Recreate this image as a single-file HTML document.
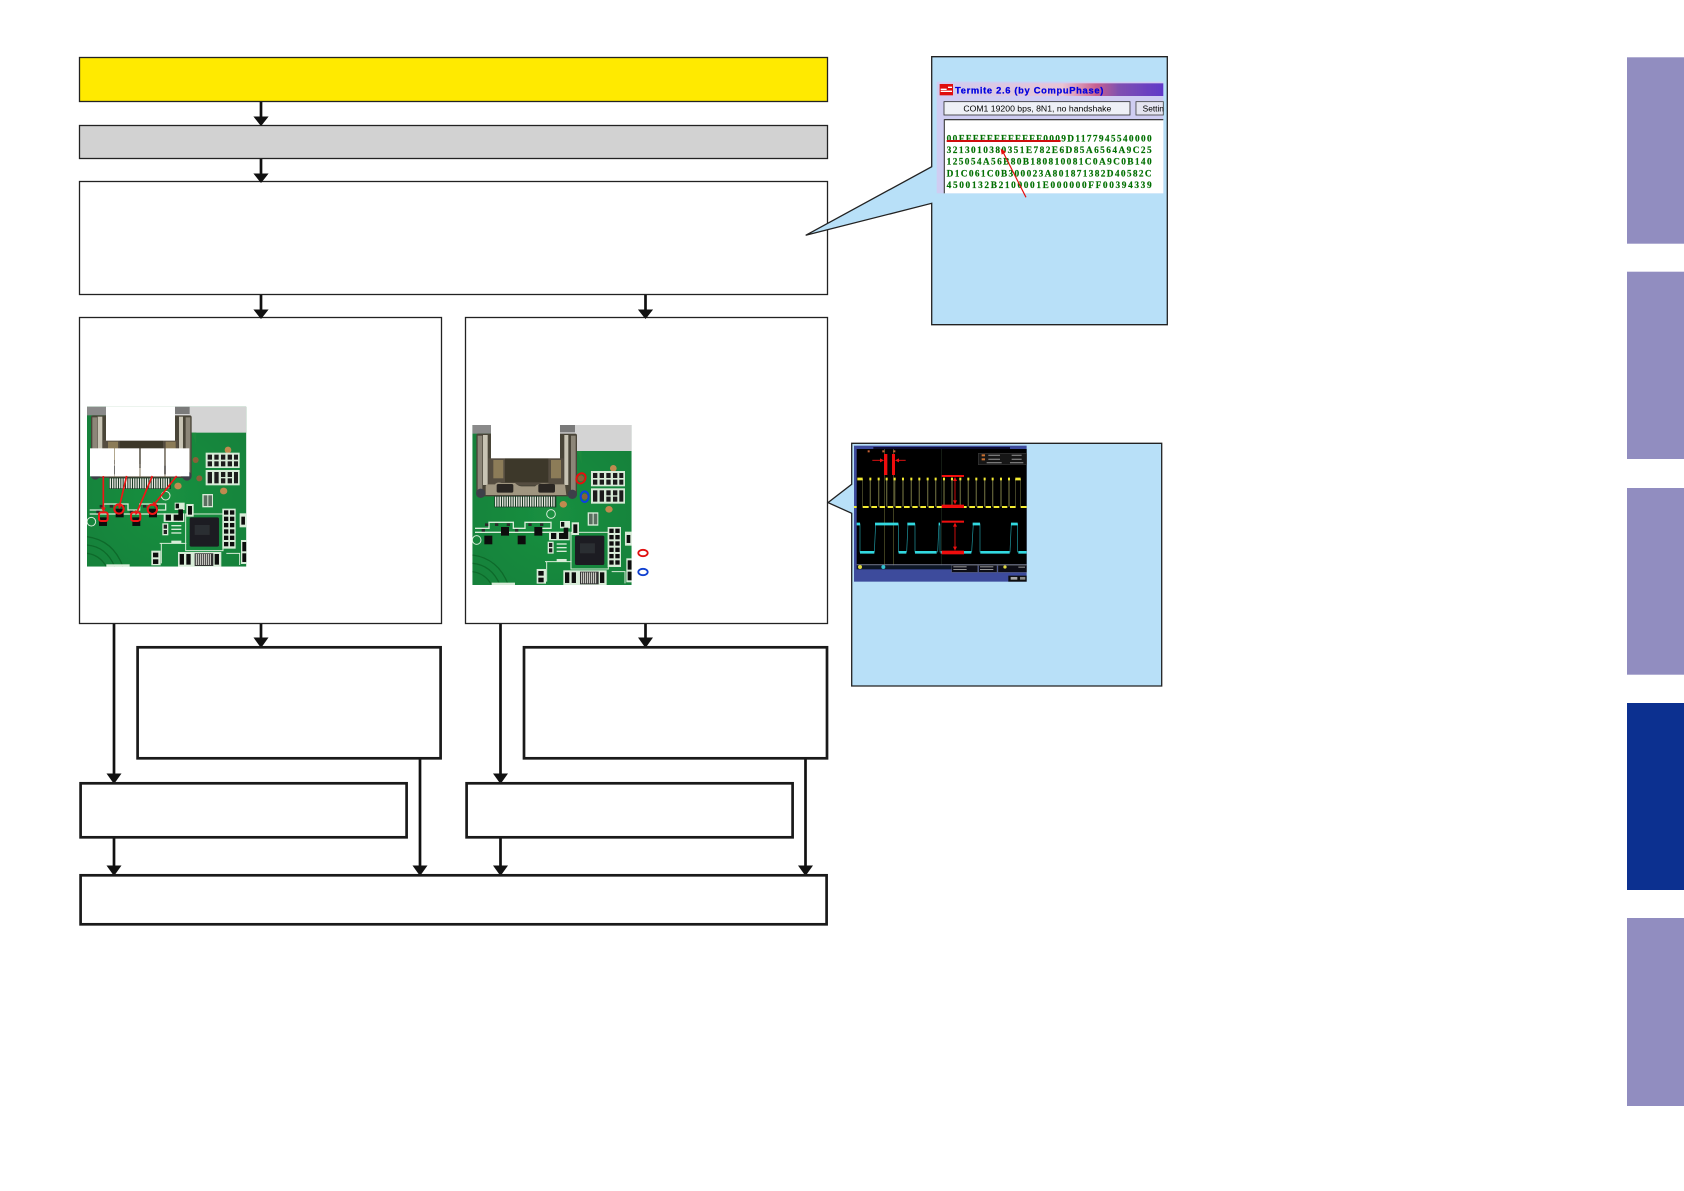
<!DOCTYPE html>
<html><head><meta charset="utf-8"><title>Diagram</title>
<style>html,body{margin:0;padding:0;background:#fff}svg{display:block}</style></head>
<body>
<svg xmlns="http://www.w3.org/2000/svg" width="1684" height="1191" viewBox="0 0 1684 1191">
<defs>
<filter id="b" x="-2%" y="-2%" width="104%" height="104%"><feGaussianBlur stdDeviation="1"/></filter>
<filter id="c" x="-2%" y="-2%" width="104%" height="104%"><feGaussianBlur stdDeviation=".6"/></filter>
<linearGradient id="tb" x1="0" x2="1" y1="0" y2="0"><stop offset="0" stop-color="#d0ccf0"/><stop offset=".55" stop-color="#e8c4d4"/><stop offset=".7" stop-color="#c86090"/><stop offset=".8" stop-color="#8050b0"/><stop offset="1" stop-color="#6038c8"/></linearGradient>
<radialGradient id="gr" cx=".5" cy=".55" r=".7"><stop offset="0" stop-color="#1a9040"/><stop offset="1" stop-color="#15803a"/></radialGradient>
<clipPath id="pc"><rect x="22" y="30" width="478" height="480"/></clipPath>
<g id="pcb" clip-path="url(#pc)">
<rect x="22" y="30" width="478" height="480" fill="url(#gr)"/>
<rect x="285" y="30" width="215" height="78" fill="#d4d4d4"/>
<rect x="285" y="30" width="45" height="22" fill="#7a7a7a"/>
<rect x="22" y="30" width="58" height="26" fill="#8a8a8a"/>
<path d="M335 108 Q345 125 350 150 L350 108Z" fill="#1c8a3e"/>
<!-- connector -->
<rect x="34" y="56" width="302" height="188" rx="6" fill="#4a4438"/>
<rect x="38" y="62" width="14" height="170" fill="#8c8678"/>
<rect x="318" y="62" width="14" height="170" fill="#8c8678"/>
<rect x="54" y="60" width="14" height="150" fill="#c8c4b4"/>
<rect x="298" y="60" width="12" height="150" fill="#c8c4b4"/>
<rect x="70" y="130" width="226" height="80" fill="#554e40"/>
<rect x="85" y="135" width="30" height="55" fill="#8c7c58"/>
<rect x="258" y="135" width="30" height="55" fill="#8c7c58"/>
<rect x="120" y="130" width="130" height="72" fill="#3c372c"/>
<path d="M62 240 V215 Q62 208 70 208 H90 Q96 200 110 204 H150 Q160 214 170 214 H210 Q225 200 260 208 H300 L304 240Z" fill="#a09680"/>
<rect x="95" y="207" width="50" height="26" rx="5" fill="#2a2824"/>
<rect x="220" y="207" width="50" height="26" rx="5" fill="#2a2824"/>
<circle cx="47" cy="235" r="14" fill="#3e4048"/><circle cx="322" cy="238" r="14" fill="#3e4048"/>
<rect x="88" y="243" width="186" height="34" fill="#1a3a26"/>
<path d="M92 245V275M99 245V275M106 245V275M113 245V275M120 245V275M127 245V275M134 245V275M141 245V275M148 245V275M155 245V275M162 245V275M169 245V275M176 245V275M183 245V275M190 245V275M197 245V275M204 245V275M211 245V275M218 245V275M225 245V275M232 245V275M239 245V275M246 245V275M253 245V275M260 245V275M267 245V275" stroke="#e4e4dc" stroke-width="4"/>
<!-- gold pads -->
<circle cx="445" cy="160" r="10" fill="#c08a50"/><ellipse cx="295" cy="268" rx="11" ry="10" fill="#c08a50"/><ellipse cx="432" cy="283" rx="11" ry="10" fill="#c08a50"/><circle cx="348" cy="190" r="9" fill="#8a6038"/><circle cx="359" cy="245" r="9" fill="#8a6038"/>
<!-- pad grid top right -->
<g fill="#d8ecd8"><rect x="378" y="168" width="102" height="46"/><rect x="378" y="220" width="102" height="46"/></g>
<g fill="#1a1a1a"><rect x="384" y="174" width="13" height="15"/><rect x="384" y="194" width="13" height="15"/><rect x="404" y="174" width="13" height="15"/><rect x="404" y="194" width="13" height="15"/><rect x="424" y="174" width="13" height="15"/><rect x="424" y="194" width="13" height="15"/><rect x="444" y="174" width="13" height="15"/><rect x="444" y="194" width="13" height="15"/><rect x="463" y="174" width="12" height="15"/><rect x="463" y="194" width="12" height="15"/>
<rect x="384" y="226" width="13" height="34"/><rect x="404" y="226" width="13" height="34"/><rect x="424" y="226" width="13" height="15"/><rect x="424" y="245" width="13" height="15"/><rect x="444" y="226" width="13" height="15"/><rect x="444" y="245" width="13" height="15"/><rect x="463" y="226" width="12" height="34"/></g>
<!-- transistor row silk -->
<path d="M30 340H72V322H145V340H180V322H258V340H230" fill="none" stroke="#d8ecd8" stroke-width="4"/>
<path d="M30 352H258" stroke="#d8ecd8" stroke-width="4"/>
<g fill="#111"><rect x="58" y="362" width="24" height="26"/><rect x="108" y="336" width="24" height="26"/><rect x="158" y="362" width="24" height="26"/><rect x="208" y="336" width="24" height="26"/></g>
<g fill="#2a2a2a"><rect x="60" y="325" width="10" height="8"/><rect x="90" y="325" width="10" height="8"/><rect x="125" y="325" width="10" height="8"/><rect x="190" y="325" width="10" height="8"/><rect x="225" y="325" width="10" height="8"/><rect x="50" y="342" width="10" height="8"/><rect x="150" y="342" width="10" height="8"/></g>
<circle cx="258" cy="297" r="13" fill="none" stroke="#d8ecd8" stroke-width="3"/>
<circle cx="35" cy="375" r="13" fill="none" stroke="#d8ecd8" stroke-width="3"/>
<!-- arcs -->
<g fill="none" stroke="#0f6a2c" stroke-width="4"><path d="M22 420 Q100 430 130 510"/><path d="M22 445 Q80 450 105 510"/><path d="M22 470 Q60 475 80 510"/></g>
<path d="M240 440H320M245 500V440" stroke="#d8ecd8" stroke-width="3" fill="none"/>
<!-- QFN -->
<rect x="318" y="352" width="112" height="110" fill="none" stroke="#d8ecd8" stroke-width="3"/>
<rect x="330" y="362" width="88" height="88" rx="5" fill="#1c1e20"/>
<rect x="345" y="385" width="45" height="30" fill="#2c2e30"/>
<g fill="#d8ecd8"><rect x="368" y="292" width="32" height="40"/><rect x="252" y="350" width="62" height="26"/><rect x="320" y="322" width="22" height="38"/><rect x="285" y="318" width="30" height="22"/></g>
<g fill="#5a6e60"><rect x="372" y="296" width="11" height="32"/><rect x="386" y="296" width="11" height="32"/></g>
<g fill="#111"><rect x="258" y="354" width="16" height="18"/><rect x="282" y="354" width="16" height="18"/><rect x="296" y="338" width="14" height="34"/><rect x="325" y="328" width="12" height="26"/><rect x="288" y="321" width="10" height="14"/></g>
<g fill="#d8ecd8"><rect x="248" y="380" width="18" height="36"/><rect x="275" y="385" width="30" height="4"/><rect x="275" y="396" width="30" height="4"/><rect x="275" y="407" width="30" height="4"/><rect x="275" y="432" width="30" height="8"/></g>
<rect x="252" y="384" width="10" height="12" fill="#222"/><rect x="252" y="400" width="10" height="12" fill="#222"/>
<!-- resistor column -->
<rect x="428" y="336" width="40" height="120" fill="#d8ecd8"/>
<g fill="#111"><rect x="433" y="341" width="13" height="13"/><rect x="451" y="341" width="13" height="13"/><rect x="433" y="360" width="13" height="13"/><rect x="451" y="360" width="13" height="13"/><rect x="433" y="379" width="13" height="13"/><rect x="451" y="379" width="13" height="13"/><rect x="433" y="398" width="13" height="13"/><rect x="451" y="398" width="13" height="13"/><rect x="433" y="417" width="13" height="13"/><rect x="451" y="417" width="13" height="13"/><rect x="433" y="436" width="13" height="13"/><rect x="451" y="436" width="13" height="13"/></g>
<rect x="480" y="350" width="20" height="42" fill="#d8ecd8"/><rect x="484" y="430" width="16" height="72" fill="#d8ecd8"/>
<rect x="485" y="360" width="11" height="24" fill="#111"/><rect x="488" y="436" width="12" height="28" fill="#111"/><rect x="488" y="470" width="12" height="26" fill="#111"/>
<!-- bottom -->
<rect x="295" y="466" width="130" height="44" fill="#d8ecd8"/><rect x="215" y="462" width="28" height="44" fill="#d8ecd8"/>
<g fill="#111"><rect x="300" y="472" width="13" height="32"/><rect x="320" y="472" width="13" height="32"/><rect x="405" y="472" width="13" height="32"/><rect x="220" y="468" width="16" height="14"/><rect x="220" y="488" width="16" height="14"/></g>
<rect x="345" y="470" width="56" height="38" fill="#333"/>
<path d="M350 472V505M356 472V505M362 472V505M368 472V505M374 472V505M380 472V505M386 472V505M392 472V505" stroke="#e4e4dc" stroke-width="3"/>
<rect x="80" y="503" width="70" height="7" fill="#d8ecd8"/>
<path d="M440 470H480V505" stroke="#d8ecd8" stroke-width="3" fill="none"/>
</g>
</defs>

<rect width="1684" height="1191" fill="#fff"/>

<!-- tabs -->
<g>
<rect x="1627" y="57.3" width="57" height="186.4" fill="#918dc0"/>
<rect x="1627" y="271.7" width="57" height="187.3" fill="#918dc0"/>
<rect x="1627" y="488" width="57" height="186.7" fill="#918dc0"/>
<rect x="1627" y="703" width="57" height="187" fill="#0c3090"/>
<rect x="1627" y="918" width="57" height="188" fill="#918dc0"/>
</g>

<!-- connectors -->
<g stroke="#111" stroke-width="2.7" fill="none">
<path d="M261 101V118M261 158V175M261 294V311M645.5 294V311M261 623V640M645.5 623V640"/>
<path d="M114 623V776M500.5 623V776M114 838V868M500.5 838V868M420 759V868M805.5 759V868"/>
</g>
<g fill="#111">
<path d="M253.5 116.5H268.5L261 126Z"/>
<path d="M253.5 173.5H268.5L261 183Z"/>
<path d="M253.5 309.5H268.5L261 319Z"/>
<path d="M638 309.5H653L645.5 319Z"/>
<path d="M253.5 637.5H268.5L261 648Z"/>
<path d="M638 637.5H653L645.5 648Z"/>
<path d="M106.5 773.5H121.5L114 784Z"/>
<path d="M493 773.5H508L500.5 784Z"/>
<path d="M106.5 865.5H121.5L114 876Z"/>
<path d="M412.5 865.5H427.5L420 876Z"/>
<path d="M493 865.5H508L500.5 876Z"/>
<path d="M798 865.5H813L805.5 876Z"/>
</g>

<!-- boxes -->
<g stroke="#222" stroke-width="1.3">
<rect x="79.5" y="57.5" width="748" height="44" fill="#ffea00"/>
<rect x="79.5" y="125.5" width="748" height="33" fill="#d2d2d2"/>
<rect x="79.5" y="181.5" width="748" height="113" fill="#fff"/>
<rect x="79.5" y="317.5" width="362" height="306" fill="#fff"/>
<rect x="465.5" y="317.5" width="362" height="306" fill="#fff"/>
</g>
<g stroke="#1a1a1a" stroke-width="2.7" fill="none">
<rect x="137.6" y="647.3" width="303" height="111"/>
<rect x="524" y="647.3" width="303" height="111"/>
<rect x="80.6" y="783.3" width="326" height="54"/>
<rect x="466.6" y="783.3" width="326" height="54"/>
<rect x="80.6" y="875.3" width="746" height="49"/>
</g>
<!-- arrow tips overlapping thin boxes -->
<g fill="#111">
<path d="M253.5 116.5H268.5L261 126Z"/>
<path d="M253.5 173.5H268.5L261 183Z"/>
<path d="M253.5 309.5H268.5L261 319Z"/>
<path d="M638 309.5H653L645.5 319Z"/>
</g>

<!-- callout panels -->
<path d="M931.7 56.7H1167.3V324.7H931.7V203.3L805.7 235.3L931.7 166.7Z" fill="#b8e0f8" stroke="#222" stroke-width="1.3" stroke-linejoin="miter"/>
<path d="M851.7 443.3H1161.7V686H851.7V513.3L828 502.6L851.7 484.3Z" fill="#b8e0f8" stroke="#222" stroke-width="1.3"/>

<!-- PCB left -->
<g transform="translate(75 400) scale(.3333)" filter="url(#b)">
<use href="#pcb" transform="translate(14 -10)"/>
<rect x="93" y="20" width="207" height="102" fill="#fff"/>
<rect x="45" y="145" width="73" height="84" fill="#fff"/>
<rect x="120" y="145" width="73" height="84" fill="#fff"/>
<rect x="197" y="145" width="71" height="84" fill="#fff"/>
<rect x="272" y="145" width="71" height="84" fill="#fff"/>
<g stroke="#f01414" stroke-width="5" fill="none">
<path d="M85 228V325M155 228L135 312M232 228L188 332M305 228L242 308"/>
<rect x="72" y="337" width="26" height="26" rx="6" stroke-width="6"/>
<circle cx="132" cy="327" r="14" stroke-width="6"/>
<rect x="168" y="337" width="28" height="26" rx="8" stroke-width="6"/>
<circle cx="232" cy="328" r="14" stroke-width="6"/>
</g>
<g fill="#f01414"><path d="M78 322H92L85 336Z"/><path d="M128 310L142 314L132 328Z"/><path d="M181 330L195 336L181 345Z"/><path d="M235 304L247 313L232 318Z"/></g>
</g>

<!-- PCB right -->
<g transform="translate(465 415) scale(.3333)" filter="url(#b)">
<use href="#pcb"/>
<rect x="78" y="30" width="207" height="100" fill="#fff"/>
<ellipse cx="348" cy="190" rx="13" ry="16" fill="none" stroke="#e81010" stroke-width="6" transform="rotate(30 348 190)"/>
<ellipse cx="359" cy="245" rx="12" ry="16" fill="none" stroke="#1040e0" stroke-width="6"/>
</g>
<ellipse cx="643" cy="553" rx="4.7" ry="3.2" fill="none" stroke="#e01010" stroke-width="1.8"/>
<ellipse cx="643" cy="572" rx="4.7" ry="3.2" fill="none" stroke="#1040d0" stroke-width="1.8"/>

<!-- Termite screenshot -->
<g transform="translate(920 50) scale(.3333)" filter="url(#c)">
<rect x="50" y="95" width="680" height="335" fill="#cfcdf2"/>
<rect x="58" y="100" width="672" height="38" fill="url(#tb)"/>
<rect x="59" y="102" width="40" height="34" fill="#e01010"/>
<path d="M62 124H96M62 118H80M84 112H96" stroke="#fff" stroke-width="4"/>
<text x="105" y="130" font-family="Liberation Sans, sans-serif" font-weight="bold" font-size="28" fill="#0000e0" stroke="#0000e0" stroke-width=".8" textLength="445" lengthAdjust="spacing">Termite 2.6 (by CompuPhase)</text>
<rect x="72" y="155" width="558" height="40" fill="#eef0f6" stroke="#333" stroke-width="2.5"/>
<text x="130" y="184" font-family="Liberation Sans, sans-serif" font-size="25" fill="#000" textLength="444" lengthAdjust="spacingAndGlyphs">COM1 19200 bps, 8N1, no handshake</text>
<rect x="648" y="155" width="82" height="40" fill="#e4e4f0" stroke="#444" stroke-width="2.5"/>
<text x="668" y="184" font-family="Liberation Sans, sans-serif" font-size="25" fill="#000">Settin</text>
<rect x="72" y="208" width="658" height="222" fill="#fff"/>
<path d="M72 209H730" stroke="#222" stroke-width="3.5"/><path d="M73 208V430" stroke="#444" stroke-width="3.5"/>
<g font-family="Liberation Serif, serif" font-weight="bold" font-size="28" fill="#067006" stroke="#067006" stroke-width=".5">
<text x="80" y="274" textLength="615" lengthAdjust="spacing">00FFFFFFFFFFFF0009D1177945540000</text>
<text x="80" y="309" textLength="615" lengthAdjust="spacing">3213010380351E782E6D85A6564A9C25</text>
<text x="80" y="344" textLength="615" lengthAdjust="spacing">125054A56B80B180810081C0A9C0B140</text>
<text x="80" y="379" textLength="615" lengthAdjust="spacing">D1C061C0B300023A801871382D40582C</text>
<text x="80" y="414" textLength="615" lengthAdjust="spacing">4500132B2100001E000000FF00394339</text>
</g>
<path d="M80 273H422" stroke="#d01010" stroke-width="6"/>
<path d="M318 442L250 308" stroke="#e81010" stroke-width="3.5"/>
<path d="M242 296L258 306L245 314Z" fill="#e81010"/>
</g>

<!-- scope -->
<g transform="translate(840 435) scale(.3333)" filter="url(#b)">
<rect x="42" y="32" width="518" height="408" fill="#3c4c9c"/>
<rect x="50" y="42" width="510" height="350" fill="#040404"/>
<rect x="100" y="36" width="410" height="6" fill="#0a1030"/>
<rect x="415" y="55" width="145" height="34" fill="#181818" stroke="#444" stroke-width="1.5"/>
<g fill="#c87030"><rect x="425" y="58" width="10" height="6"/><rect x="425" y="70" width="10" height="6"/></g>
<g fill="#777"><rect x="445" y="59" width="35" height="4"/><rect x="445" y="71" width="35" height="4"/><rect x="440" y="81" width="45" height="4"/><rect x="515" y="59" width="30" height="4"/><rect x="515" y="71" width="30" height="4"/><rect x="510" y="81" width="40" height="4"/></g>
<path d="M134 42V392M160 42V392" stroke="#7a7a38" stroke-width="1.5"/>
<path d="M305 42V392" stroke="#1c2a1c" stroke-width="2"/>
<!-- yellow trace -->
<path d="M68 132V215M90 132V215M92 132V215M115 132V215M117 132V215M139 132V215M141 132V215M163 132V215M165 132V215M188 132V215M190 132V215M213 132V215M215 132V215M237 132V215M239 132V215M262 132V215M264 132V215M286 132V215M288 132V215M311 132V215M313 132V215M335 132V215M337 132V215M360 132V215M362 132V215M384 132V215M386 132V215M408 132V215M410 132V215M433 132V215M435 132V215M457 132V215M459 132V215M482 132V215M484 132V215M506 132V215M508 132V215M526 132V215M542 132V215" stroke="#8f8f50" stroke-width="1.3"/>
<path d="M52 132H68M88 132H94M113 132H119M137 132H143M161 132H167M186 132H192M211 132H217M235 132H241M260 132H266M284 132H290M309 132H315M333 132H339M358 132H364M382 132H388M406 132H412M431 132H437M455 132H461M480 132H486M504 132H510M526 132H542" stroke="#f4ec30" stroke-width="8"/>
<path d="M42 216H50M68 216H86M94 216H111M119 216H135M143 216H159M167 216H184M192 216H209M217 216H233M241 216H258M266 216H282M290 216H307M315 216H331M339 216H356M364 216H380M388 216H405M412 216H429M437 216H453M461 216H478M486 216H502M510 216H527M542 216H560" stroke="#f4ec30" stroke-width="6"/>
<!-- cyan trace -->
<path d="M60 266V352M103 352L107 266M175 266V352M200 352L204 266M225 266V352M293 352L297 266M300 266V352M395 352L400 266M420 266V352M510 352L514 266M533 266V352" fill="none" stroke="#1f9aa4" stroke-width="2"/>
<path d="M50 267H60M105 267H175M202 267H225M296 267H300M398 267H420M513 267H533" stroke="#30d8e0" stroke-width="8"/>
<path d="M60 352H103M176 352H199M225 352H290M302 352H394M421 352H509M535 352H560" stroke="#30d8e0" stroke-width="8"/>
<!-- red -->
<g fill="#f01010"><rect x="132" y="57" width="10" height="63"/><rect x="156" y="57" width="9" height="63"/>
<rect x="305" y="120" width="67" height="6"/><rect x="305" y="209" width="67" height="10"/><rect x="305" y="257" width="67" height="6"/><rect x="305" y="347" width="67" height="11"/>
<path d="M132 76L120 70V82Z"/><path d="M165 76L177 70V82Z"/>
<path d="M345 126L339 138H351Z"/><path d="M345 208L339 196H351Z"/><path d="M345 263L339 275H351Z"/><path d="M345 347L339 335H351Z"/></g>
<path d="M97 76H125M172 76H197M345 130V204M345 268V342" stroke="#f01010" stroke-width="2.5" fill="none"/>
<g fill="#c86030"><rect x="83" y="46" width="6" height="6"/><rect x="127" y="46" width="6" height="6"/><rect x="160" y="46" width="6" height="6"/></g>
<!-- bottom bar -->
<rect x="50" y="388" width="510" height="3" fill="#8088a0"/>
<rect x="50" y="391" width="285" height="12" fill="#0a1228"/>
<circle cx="60" cy="396" r="6" fill="#e0d840"/><circle cx="130" cy="396" r="6" fill="#30c0d0"/>
<rect x="335" y="391" width="78" height="21" fill="#0a0a14" stroke="#777" stroke-width="1"/>
<rect x="416" y="391" width="55" height="21" fill="#0a0a14" stroke="#777" stroke-width="1"/>
<rect x="474" y="391" width="86" height="21" fill="#0a0a14" stroke="#777" stroke-width="1"/>
<circle cx="495" cy="396" r="5" fill="#e0d840"/>
<g fill="#999"><rect x="340" y="394" width="40" height="3"/><rect x="340" y="402" width="40" height="3"/><rect x="420" y="394" width="40" height="3"/><rect x="420" y="402" width="40" height="3"/><rect x="535" y="395" width="20" height="3"/></g>
<rect x="505" y="422" width="55" height="18" fill="#111"/>
<rect x="512" y="426" width="20" height="8" fill="#aaa"/><rect x="540" y="426" width="16" height="8" fill="#888"/>
</g>
</svg>
</body></html>
